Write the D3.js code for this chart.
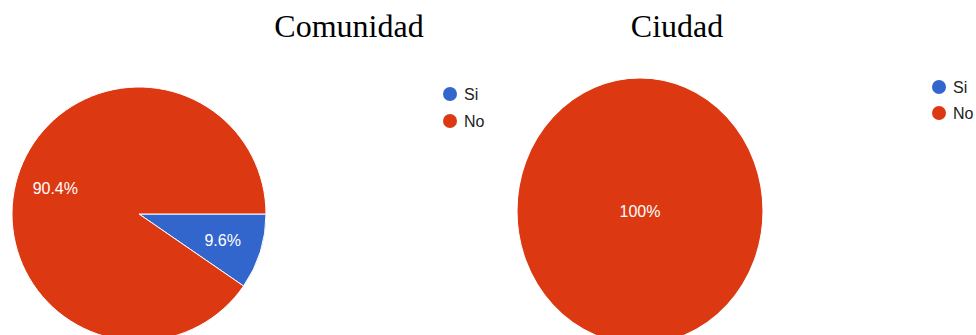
<!DOCTYPE html>
<html>
<head>
<meta charset="utf-8">
<script src="https://cdn.jsdelivr.net/npm/d3@7"></script>
<style>
  html, body { margin: 0; padding: 0; background: #fff; }
  svg { display: block; }
</style>
</head>
<body>
<div id="chart"></div>
<script>
// Data
const categories = ['Si', 'No'];
const comunidadValues = [9.6, 90.4];
const ciudadValues = [0, 100];
const titles = ['Comunidad', 'Ciudad'];

const colors = d3.scaleOrdinal()
    .domain(categories)
    .range(['#3366CC', '#DC3912']);

const width = 976;
const height = 335;

// Panel layout (each pie sits in its own box)
const panels = [
    { title: titles[0], values: comunidadValues, titleX: 349, cx: 139, cy: 214, rx: 127, ry: 127, legendX: 450, legendY: 94, legendStep: 27 },
    { title: titles[1], values: ciudadValues, titleX: 677, cx: 640, cy: 211, rx: 123, ry: 133, legendX: 939, legendY: 87, legendStep: 26 }
];

const svg = d3.select('#chart')
    .append('svg')
    .attr('width', width)
    .attr('height', height);

const pie = d3.pie()
    .sort(null)
    .value(d => d.value)
    .startAngle(Math.PI / 2)
    .endAngle(Math.PI / 2 + 2 * Math.PI);

panels.forEach(p => {
    const data = categories.map((c, i) => ({ name: c, value: p.values[i] }));
    const total = d3.sum(data, d => d.value);
    const arcs = pie(data);

    // Title
    svg.append('text')
        .attr('x', p.titleX)
        .attr('y', 37)
        .attr('text-anchor', 'middle')
        .style('font-family', '"Times New Roman", "Liberation Serif", serif')
        .style('font-size', '32px')
        .style('fill', '#000')
        .text(p.title);

    // Pie drawn as circle, then stretched into an ellipse if needed
    const arc = d3.arc().innerRadius(0).outerRadius(p.rx);
    const g = svg.append('g')
        .attr('transform', `translate(${p.cx},${p.cy}) scale(1,${p.ry / p.rx})`);

    g.selectAll('path')
        .data(arcs.filter(d => d.value > 0))
        .join('path')
        .attr('d', arc)
        .attr('fill', d => colors(d.data.name))
        .attr('stroke', '#fff')
        .attr('stroke-width', 1);

    // Slice labels
    const labelArc = d3.arc().innerRadius(p.rx * 0.69).outerRadius(p.rx * 0.69);
    arcs.filter(d => d.value > 0).forEach(d => {
        const share = d.value / total;
        let [lx, ly] = share >= 0.999 ? [0, 0] : labelArc.centroid(d);
        ly = ly * p.ry / p.rx;
        svg.append('text')
            .attr('x', p.cx + lx)
            .attr('y', p.cy + ly)
            .attr('dy', '0.35em')
            .attr('text-anchor', 'middle')
            .style('font-family', 'Arial, "Liberation Sans", sans-serif')
            .style('font-size', '16px')
            .style('fill', '#fff')
            .text(d3.format('.3~')(share * 100) + '%');
    });

    // Legend
    const legend = svg.append('g')
        .selectAll('g')
        .data(categories)
        .join('g')
        .attr('transform', (d, i) => `translate(${p.legendX},${p.legendY + i * p.legendStep})`);

    legend.append('circle')
        .attr('r', 7)
        .attr('fill', d => colors(d));

    legend.append('text')
        .attr('x', 14)
        .attr('dy', '0.35em')
        .style('font-family', 'Arial, "Liberation Sans", sans-serif')
        .style('font-size', '16px')
        .style('fill', '#222')
        .text(d => d);
});
</script>
</body>
</html>
